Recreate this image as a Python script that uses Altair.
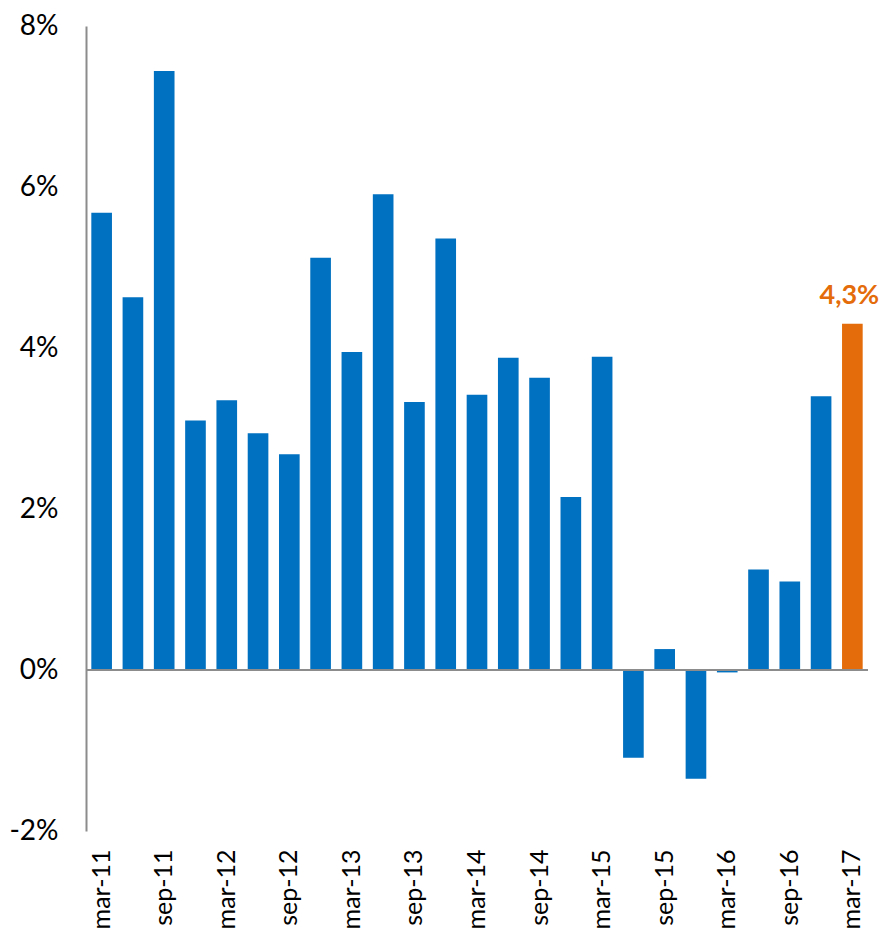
import altair as alt
import pandas as pd

quarters = ["mar-11", "jun-11", "sep-11", "dic-11",
            "mar-12", "jun-12", "sep-12", "dic-12",
            "mar-13", "jun-13", "sep-13", "dic-13",
            "mar-14", "jun-14", "sep-14", "dic-14",
            "mar-15", "jun-15", "sep-15", "dic-15",
            "mar-16", "jun-16", "sep-16", "dic-16",
            "mar-17"]
values = [5.68, 4.63, 7.44, 3.10,
          3.35, 2.94, 2.68, 5.12,
          3.95, 5.91, 3.33, 5.36,
          3.42, 3.88, 3.63, 2.15,
          3.89, -1.09, 0.26, -1.35,
          -0.03, 1.25, 1.10, 3.40,
          4.30]
highlight = ["no"] * 24 + ["yes"]
labels = [""] * 24 + ["4,3%"]
shown_ticks = quarters[::2]

df = pd.DataFrame({"q": quarters, "v": values, "h": highlight, "lab": labels})

FONT = "Lato"

x = alt.X("q:N", sort=quarters,
          scale=alt.Scale(paddingInner=0.34, paddingOuter=0.17),
          axis=alt.Axis(title=None, values=shown_ticks, labelAngle=-90,
                        labelFontSize=25, labelFont=FONT, labelColor="#000",
                        labelPadding=18, ticks=False, domain=False,
                        labelAlign="right", labelBaseline="middle"))
y = alt.Y("v:Q", scale=alt.Scale(domain=[-2, 8], nice=False),
          axis=alt.Axis(title=None, values=[-2, 0, 2, 4, 6, 8],
                        labelExpr="datum.value + '%'",
                        labelFontSize=28, labelFont=FONT, labelColor="#000",
                        labelPadding=28, ticks=False, grid=False,
                        domain=True, domainColor="#8c8c8c", domainWidth=2))

bars = alt.Chart(df).mark_bar().encode(
    x=x, y=y,
    color=alt.Color("h:N", scale=alt.Scale(domain=["no", "yes"],
                                           range=["#0070C0", "#E46C0A"]),
                    legend=None),
)

zero = alt.Chart(pd.DataFrame({"z": [0]})).mark_rule(
    color="#8c8c8c", strokeWidth=2).encode(y=alt.Y("z:Q"))

txt = alt.Chart(df).transform_filter("datum.lab != ''").mark_text(
    dy=-28, dx=-3, fontSize=27, fontWeight="bold", font=FONT, color="#E46C0A"
).encode(x=alt.X("q:N", sort=quarters), y=alt.Y("v:Q"), text="lab:N")

chart = alt.layer(bars, zero, txt).properties(
    width=782, height=805,
    autosize=alt.AutoSizeParams(type="none"),
    padding={"left": 78, "top": 18, "right": 11, "bottom": 97},
).configure_view(stroke=None)

chart.save("out.html", embed_options={"renderer": "svg", "actions": False})
